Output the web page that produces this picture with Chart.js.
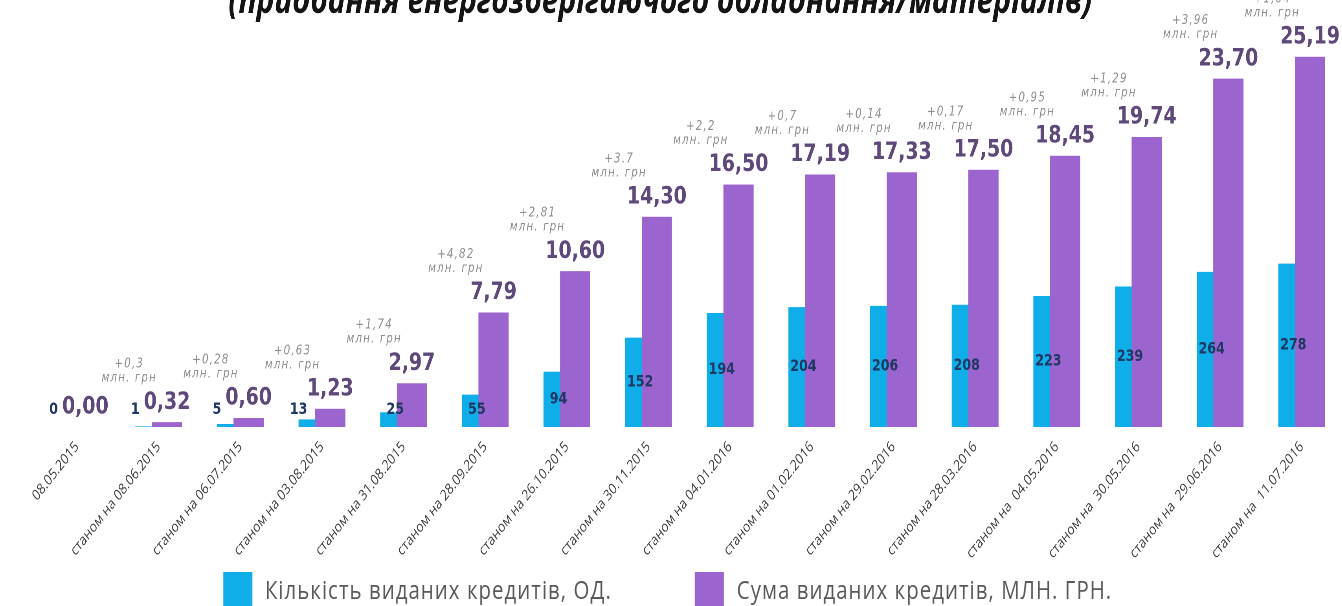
<!DOCTYPE html>
<html>
<head>
<meta charset="utf-8">
<script src="https://cdn.jsdelivr.net/npm/chart.js@4/dist/chart.umd.min.js"></script>
<style>
  html, body { margin: 0; padding: 0; background: #fff; overflow: hidden; width: 1342px; height: 606px; }
  /* the source picture is squeezed horizontally, so the whole chart is drawn wider and squeezed back */
  #wrap { position: relative; width: 1708px; height: 606px; transform: scaleX(0.786); transform-origin: 0 0; }
  #box { position: absolute; left: 0; top: 0; width: 1708px; height: 565px; }
  #legend { position: absolute; top: 572px; left: 284px; display: flex; gap: 106px; font: 26px 'Open Sans', sans-serif; letter-spacing: 1.3px; color: #595959; }
  #legend .item { display: flex; align-items: flex-start; }
  #legend .sw { width: 37px; height: 37px; margin-right: 16px; }
  #legend .tx { line-height: 34px; white-space: pre; }
</style>
</head>
<body>
<div id="wrap">
  <div id="box"><canvas id="chart"></canvas></div>
  <div id="legend"></div>
</div>
<script>
const dateLabels = [
  '08.05.2015',
  'станом на 08.06.2015',
  'станом на 06.07.2015',
  'станом на 03.08.2015',
  'станом на 31.08.2015',
  'станом на 28.09.2015',
  'станом на 26.10.2015',
  'станом на 30.11.2015',
  'станом на 04.01.2016',
  'станом на 01.02.2016',
  'станом на 29.02.2016',
  'станом на 28.03.2016',
  'станом на  04.05.2016',
  'станом на  30.05.2016',
  'станом на  29.06.2016',
  'станом на  11.07.2016'
];
const loanCounts = [0, 1, 5, 13, 25, 55, 94, 152, 194, 204, 206, 208, 223, 239, 264, 278];
const loanSums = [0, 0.32, 0.60, 1.23, 2.97, 7.79, 10.60, 14.30, 16.50, 17.19, 17.33, 17.50, 18.45, 19.74, 23.70, 25.19];
const sumGrowth = ['', '+0,3', '+0,28', '+0,63', '+1,74', '+4,82', '+2,81', '+3.7', '+2,2', '+0,7', '+0,14', '+0,17', '+0,95', '+1,29', '+3,96', '+1,04'];
const growthUnit = 'млн. грн';
const titleText = '(придбання енергозберігаючого обладнання/матеріалів)';
const countLabel = 'Кількість виданих кредитів, ОД.';
const sumLabel = 'Сума виданих кредитів, МЛН. ГРН.';

const BLUE = '#0FAEE9';
const PURPLE = '#9C64CE';

const barLabels = {
  id: 'barLabels',
  beforeDraw(chart) {
    const ctx = chart.ctx;
    ctx.save();
    ctx.font = 'italic bold 38px "Open Sans"';
    ctx.fillStyle = '#141414';
    ctx.textAlign = 'center';
    ctx.textBaseline = 'alphabetic';
    ctx.fillText(titleText, 840, 13);
    ctx.restore();
  },
  afterDatasetsDraw(chart) {
    const ctx = chart.ctx;
    const blue = chart.getDatasetMeta(0);
    const purple = chart.getDatasetMeta(1);

    // purple bars sit in front of the blue ones
    ctx.save();
    purple.controller.draw();
    ctx.restore();

    ctx.save();
    ctx.textAlign = 'center';

    ctx.font = 'bold 16px "DejaVu Sans"';
    ctx.fillStyle = '#1F3864';
    ctx.textBaseline = 'middle';
    blue.data.forEach((bar, i) => {
      const p = bar.getProps(['x', 'y', 'width', 'base'], true);
      const h = p.base - p.y;
      const x = h < 8 ? p.x - p.width / 2 : p.x;
      const y = Math.min(p.base - 17, (p.y + p.base) / 2);
      ctx.fillText(String(loanCounts[i]), x, y);
    });

    purple.data.forEach((bar, i) => {
      const p = bar.getProps(['x', 'y'], true);
      ctx.font = 'bold 24px "DejaVu Sans"';
      ctx.fillStyle = '#5F497A';
      ctx.textBaseline = 'alphabetic';
      ctx.fillText(loanSums[i].toFixed(2).replace('.', ','), p.x, p.y - 13.5);

      if (sumGrowth[i]) {
        ctx.font = 'italic 13px "DejaVu Sans"';
        ctx.letterSpacing = '1.5px';
        ctx.fillStyle = '#8f8f8f';
        ctx.textBaseline = 'middle';
        ctx.fillText(sumGrowth[i], p.x - 48, p.y - 58);
        ctx.fillText(growthUnit, p.x - 48, p.y - 44);
        ctx.letterSpacing = '0px';
      }
    });
    ctx.restore();
  }
};

const chart = new Chart(document.getElementById('chart'), {
  type: 'bar',
  data: {
    labels: dateLabels,
    datasets: [
      {
        label: countLabel,
        data: loanCounts,
        backgroundColor: BLUE,
        yAxisID: 'yCount',
        categoryPercentage: 0.409,
        barPercentage: 1.8
      },
      {
        label: sumLabel,
        data: loanSums,
        backgroundColor: PURPLE,
        yAxisID: 'ySum',
        categoryPercentage: 0.409,
        barPercentage: 1.8
      }
    ]
  },
  options: {
    responsive: true,
    maintainAspectRatio: false,
    animation: false,
    devicePixelRatio: 2,
    layout: { padding: { top: 45, left: 46, right: 0, bottom: 0 } },
    plugins: {
      legend: { display: false },
      tooltip: { enabled: false }
    },
    scales: {
      x: {
        grid: { display: false },
        border: { display: false },
        ticks: {
          autoSkip: false,
          minRotation: 45,
          maxRotation: 45,
          padding: 3,
          color: '#404040',
          font: { family: 'Open Sans', size: 15 }
        },
        afterFit(scale) { scale.height = 138; }
      },
      yCount: { display: false, min: 0, max: 650 },
      ySum: { display: false, min: 0, max: 26 }
    }
  },
  plugins: [barLabels]
});

const legend = document.getElementById('legend');
chart.data.datasets.forEach(ds => {
  const item = document.createElement('div');
  item.className = 'item';
  const sw = document.createElement('div');
  sw.className = 'sw';
  sw.style.background = ds.backgroundColor;
  const tx = document.createElement('div');
  tx.className = 'tx';
  tx.textContent = ds.label;
  item.appendChild(sw);
  item.appendChild(tx);
  legend.appendChild(item);
});
</script>
</body>
</html>
